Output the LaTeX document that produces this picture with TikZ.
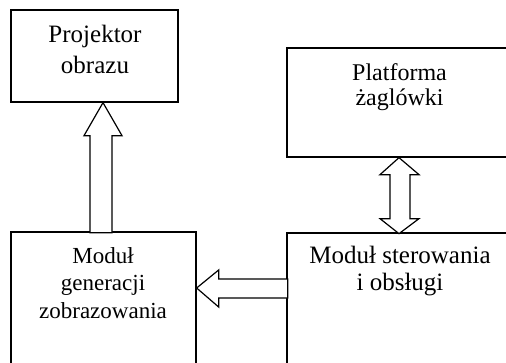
\documentclass[tikz,border=0pt]{standalone}
\usepackage{fontspec}
\setmainfont{Liberation Serif}
\tikzset{
  box/.style={draw=black, line width=1.3pt, fill=none, inner sep=0pt},
  blockarrow/.style={draw=black, line width=1.2pt, fill=white, line join=miter},
  lbl/.style={anchor=base, inner sep=0pt, font=\fontsize{23}{27}\selectfont},
  lblbig/.style={lbl, font=\fontsize{25}{30}\selectfont},
  lblmid/.style={lbl, font=\fontsize{24}{28}\selectfont}
}
\begin{document}
\begin{tikzpicture}[x=1pt, y=-1pt]
\useasboundingbox (0,0) rectangle (506,362);
\clip (0,0) rectangle (506,362);
\fill[white] (0,0) rectangle (506,362);

% blocks (the right and lower ones run past the page edge)
\node[box, minimum width=167pt, minimum height=92pt]  (proj) at (94.5,56)   {};
\node[box, minimum width=273pt, minimum height=109pt] (plat) at (423.5,102.5) {};
\node[box, minimum width=185pt, minimum height=168pt] (gen)  at (103.5,316) {};
\node[box, minimum width=273pt, minimum height=167pt] (ster) at (423.5,316.5) {};

% block labels
\node[lblbig] (projA) at (95,42) {Projektor};
\node[lblbig] (projB) at (95,73) {obrazu};
\node[lblmid] (platA) at (399.5,80) {Platforma};
\node[lblmid] (platB) at (399.5,105) {żaglówki};
\node[lbl] (genA) at (103,263) {Moduł};
\node[lbl] (genB) at (103,290) {generacji};
\node[lbl] (genC) at (103,318) {zobrazowania};
\node[lblbig] (sterA) at (400,263) {Moduł sterowania};
\node[lblbig] (sterB) at (400,290) {i obsługi};

% hollow arrow: generation module -> projector
\path (proj.south) ++(8.5,0) coordinate (tipA);
\draw[blockarrow] (tipA) -- ++(19,33) -- ++(-10,0) -- ++(0,97) -- ++(-22,0)
  -- ++(0,-97) -- ++(-6,0) -- cycle;

% hollow arrow: control module -> generation module
\path (gen.east) ++(0,-28) coordinate (tipB);
\draw[blockarrow] (tipB) -- ++(22,-18) -- ++(0,9) -- ++(69,0) -- ++(0,19)
  -- ++(-69,0) -- ++(0,9) -- cycle;

% hollow double arrow: platform <-> control module
\path (plat.south) ++(-24.5,0) coordinate (tipC);
\draw[blockarrow] (tipC) -- ++(20,17) -- ++(-9,0) -- ++(0,44) -- ++(9,0)
  -- ++(-20,15) -- ++(-19,-15) -- ++(10,0) -- ++(0,-44) -- ++(-10,0) -- cycle;
\end{tikzpicture}
\end{document}
